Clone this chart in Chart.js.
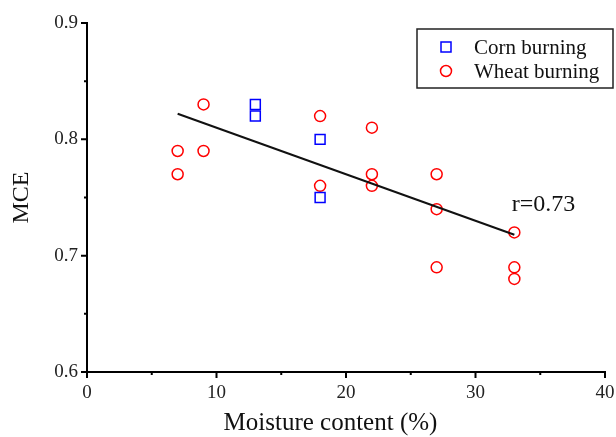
<!DOCTYPE html>
<html>
<head>
<meta charset="utf-8">
<script src="https://cdn.jsdelivr.net/npm/chart.js@4/dist/chart.umd.min.js"></script>
<style>
html,body{margin:0;padding:0;background:#fff;}
#wrap{width:616px;height:437px;position:relative;}
</style>
</head>
<body>
<div id="wrap"><canvas id="c" width="616" height="437"></canvas></div>
<script>
// ---- data ----
const cornX = [13, 13, 18, 18];
const cornY = [0.83, 0.82, 0.80, 0.75];
const wheatX = [7, 7, 9, 9, 18, 18, 22, 22, 22, 27, 27, 27, 33, 33, 33];
const wheatY = [0.79, 0.77, 0.83, 0.79, 0.82, 0.76, 0.81, 0.77, 0.76, 0.77, 0.74, 0.69, 0.72, 0.69, 0.68];
const fitX = [7, 33];
const fitY = [0.822, 0.718];
const seriesNames = ['Corn burning', 'Wheat burning'];
const xTicks = [0, 10, 20, 30, 40];
const xMinorTicks = [5, 15, 25, 35];
const yTicks = [0.6, 0.7, 0.8, 0.9];
const yMinorTicks = [0.65, 0.75, 0.85];
const xTitle = 'Moisture content (%)';
const yTitle = 'MCE';
const annotationText = 'r=0.73';
const annotationX = 32.8;
const annotationY = 0.7435;

const FONT = "'Liberation Serif', 'Times New Roman', serif";
const pts = (xs, ys) => xs.map((x, i) => ({x: x, y: ys[i]}));

const overlay = {
  id: 'overlay',
  afterDraw(chart) {
    const ctx = chart.ctx;
    const xs = chart.scales.x, ys = chart.scales.y;
    const ca = chart.chartArea;
    const x0 = xs.getPixelForValue(xTicks[0]);
    const yb = ys.getPixelForValue(yTicks[0]);
    ctx.save();
    ctx.strokeStyle = '#000';
    ctx.lineWidth = 2;
    // ticks
    ctx.beginPath();
    xTicks.forEach(v => { const p = xs.getPixelForValue(v); ctx.moveTo(p, yb); ctx.lineTo(p, yb + 6); });
    xMinorTicks.forEach(v => { const p = xs.getPixelForValue(v); ctx.moveTo(p, yb); ctx.lineTo(p, yb + 3); });
    yTicks.forEach(v => { const p = ys.getPixelForValue(v); ctx.moveTo(x0, p); ctx.lineTo(x0 - 6, p); });
    yMinorTicks.forEach(v => { const p = ys.getPixelForValue(v); ctx.moveTo(x0, p); ctx.lineTo(x0 - 3, p); });
    ctx.stroke();

    // x axis title (slightly left of centre, as in the reference)
    ctx.fillStyle = '#111';
    ctx.font = '25px ' + FONT;
    ctx.textAlign = 'center';
    ctx.textBaseline = 'middle';
    ctx.fillText(xTitle, ca.left + (ca.right - ca.left) * 0.47, chart.height - 14);

    // annotation
    ctx.font = '24px ' + FONT;
    ctx.textAlign = 'left';
    ctx.textBaseline = 'middle';
    ctx.fillText(annotationText, xs.getPixelForValue(annotationX), ys.getPixelForValue(annotationY));

    // legend box
    const bx = ca.right - 188, by = ca.top + 6, bw = 196, bh = 59;
    ctx.lineWidth = 1.5;
    ctx.strokeStyle = '#222';
    ctx.strokeRect(bx, by, bw, bh);
    const mx = bx + 29;
    const rows = [by + 18, by + 42];
    ctx.lineWidth = 1.5;
    ctx.strokeStyle = 'blue';
    ctx.strokeRect(mx - 5, rows[0] - 5, 10, 10);
    ctx.strokeStyle = 'red';
    ctx.beginPath();
    ctx.arc(mx, rows[1], 5.5, 0, Math.PI * 2);
    ctx.stroke();
    ctx.fillStyle = '#111';
    ctx.font = '21px ' + FONT;
    ctx.textBaseline = 'middle';
    ctx.fillText(seriesNames[0], bx + 57, rows[0] + 1);
    ctx.fillText(seriesNames[1], bx + 57, rows[1] + 1);
    ctx.restore();
  }
};

new Chart(document.getElementById('c'), {
  type: 'scatter',
  data: {
    datasets: [
      {
        label: seriesNames[0],
        data: pts(cornX, cornY),
        pointStyle: 'rect',
        pointRadius: 7,
        pointHoverRadius: 7,
        borderColor: 'blue',
        backgroundColor: 'rgba(0,0,0,0)',
        pointBorderWidth: 1.5,
        order: 2
      },
      {
        label: seriesNames[1],
        data: pts(wheatX, wheatY),
        pointStyle: 'circle',
        pointRadius: 5.5,
        pointHoverRadius: 5.5,
        borderColor: 'red',
        backgroundColor: 'rgba(0,0,0,0)',
        pointBorderWidth: 1.5,
        order: 2
      },
      {
        label: 'fit',
        type: 'line',
        data: pts(fitX, fitY),
        borderColor: '#111',
        borderWidth: 2,
        pointRadius: 0,
        showLine: true,
        fill: false,
        order: 1
      }
    ]
  },
  options: {
    responsive: false,
    animation: false,
    events: [],
    layout: { padding: { top: 23, right: 11, left: 0, bottom: 0 } },
    plugins: { legend: { display: false }, tooltip: { enabled: false } },
    scales: {
      x: {
        type: 'linear',
        min: 0, max: 40,
        afterFit(s) { s.height = 65; s.paddingLeft = 0; s.paddingRight = 0; },
        afterBuildTicks(s) { s.ticks = xTicks.map(v => ({value: v})); },
        ticks: { color: '#222', font: { family: FONT, size: 19 }, padding: 10, maxRotation: 0 },
        grid: { display: true, drawOnChartArea: false, drawTicks: false, color: 'rgba(0,0,0,0)' },
        border: { display: true, color: '#000', width: 2 },
        title: { display: false }
      },
      y: {
        type: 'linear',
        min: 0.6, max: 0.9,
        afterFit(s) { s.width = 87; s.paddingTop = 0; s.paddingBottom = 0; },
        afterBuildTicks(s) { s.ticks = yTicks.map(v => ({value: v})); },
        ticks: { color: '#222', font: { family: FONT, size: 19 }, padding: 9, callback: v => v.toFixed(1) },
        grid: { display: true, drawOnChartArea: false, drawTicks: false, color: 'rgba(0,0,0,0)' },
        border: { display: true, color: '#000', width: 2 },
        title: { display: true, text: yTitle, color: '#111', font: { family: FONT, size: 24 }, padding: { top: 7, bottom: 0 } }
      }
    }
  },
  plugins: [overlay]
});
</script>
</body>
</html>
